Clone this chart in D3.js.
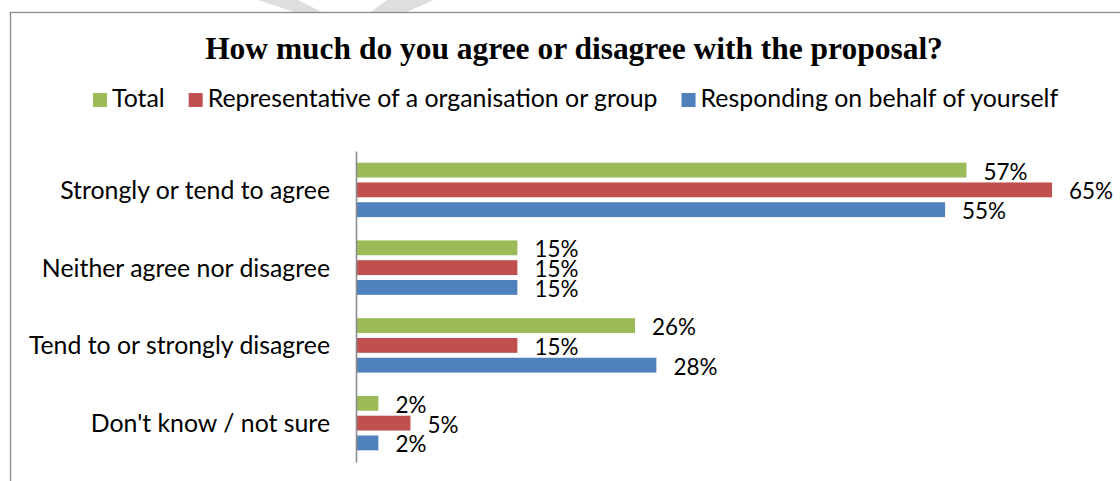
<!DOCTYPE html>
<html>
<head>
<meta charset="utf-8">
<script src="https://cdn.jsdelivr.net/npm/d3@7"></script>
<style>
  html, body { margin: 0; padding: 0; background: #fff; }
  svg { display: block; }
</style>
</head>
<body>
<svg id="chart" width="1120" height="481"></svg>
<script>
// ---- data ----
const categories = [
  "Strongly or tend to agree",
  "Neither agree nor disagree",
  "Tend to or strongly disagree",
  "Don't know / not sure"
];
const seriesNames = [
  "Total",
  "Representative of a organisation or group",
  "Responding on behalf of yourself"
];
const totalValues          = [57, 15, 26, 2];
const representativeValues = [65, 15, 15, 5];
const selfValues           = [55, 15, 28, 2];
const titleText = "How much do you agree or disagree with the proposal?";

// ---- styling ----
const seriesColors = ["#9BBB59", "#C0504D", "#4F81BD"];
const sansFamily = "Lato, 'Open Sans', sans-serif";
const serifFamily = "'Liberation Serif', 'DejaVu Serif', serif";
const textColor = "#000";
const frameColor = "#8c8c8c";

const seriesValues = [totalValues, representativeValues, selfValues];
const rows = categories.map((c, i) => ({
  category: c,
  values: seriesNames.map((s, j) => ({ series: s, value: seriesValues[j][i], color: seriesColors[j] }))
}));

const svg = d3.select("#chart");
const W = 1120, H = 481;

// font size that makes a string a given width
function fitSize(text, family, weight, target) {
  const t = svg.append("text")
    .attr("font-family", family).attr("font-weight", weight)
    .attr("font-size", 100).text(text);
  const w = t.node().getComputedTextLength();
  t.remove();
  return 100 * target / w;
}

// faint watermark strokes above the chart frame
const watermark = [
  [[258, 0], [298, 0], [324, 13], [297, 13]],
  [[387, 0], [434, 0], [404, 13], [369, 13]]
];
svg.append("g").selectAll("path").data(watermark).join("path")
  .attr("d", d => d3.line()(d) + "Z")
  .attr("fill", "#dedede");

// chart frame
svg.append("rect")
  .attr("x", 10.5).attr("y", 12.5)
  .attr("width", W + 20).attr("height", H + 20)
  .attr("fill", "#fff")
  .attr("stroke", frameColor).attr("stroke-width", 1.3);

// title
const titleSize = fitSize(titleText, serifFamily, "bold", 738);
svg.append("text")
  .attr("x", 574).attr("y", 59)
  .attr("text-anchor", "middle")
  .attr("font-family", serifFamily).attr("font-weight", "bold")
  .attr("font-size", titleSize)
  .attr("fill", textColor)
  .text(titleText);

// legend
const legendSize = fitSize(seriesNames[1], sansFamily, "normal", 450);
const legend = svg.append("g").attr("transform", "translate(93,0)");
let lx = 0;
seriesNames.forEach((name, i) => {
  const g = legend.append("g").attr("transform", `translate(${lx},0)`);
  g.append("rect").attr("x", 0).attr("y", 93).attr("width", 14).attr("height", 14)
    .attr("fill", seriesColors[i]);
  const t = g.append("text").attr("x", 19).attr("y", 107)
    .attr("font-family", sansFamily).attr("font-size", legendSize)
    .attr("fill", textColor).text(name);
  lx += 19 + t.node().getComputedTextLength() + 24;
});

// scales
const x = d3.scaleLinear().domain([0, 65]).range([357, 1052]);
const y0 = d3.scaleBand().domain(categories).range([151, 462])
  .paddingInner(0.3).paddingOuter(0.15);
const y1 = d3.scaleBand().domain(seriesNames).range([0, y0.bandwidth()])
  .paddingInner(0.25).paddingOuter(0);

// bars
const groups = svg.append("g").selectAll("g").data(rows).join("g")
  .attr("transform", d => `translate(0,${y0(d.category)})`);

groups.selectAll("rect").data(d => d.values).join("rect")
  .attr("x", x(0))
  .attr("y", d => y1(d.series))
  .attr("width", d => x(d.value) - x(0))
  .attr("height", y1.bandwidth())
  .attr("fill", d => d.color);

// value labels
const valueSize = fitSize("57%", sansFamily, "normal", 44);
groups.selectAll("text").data(d => d.values).join("text")
  .attr("x", d => x(d.value) + 17)
  .attr("y", d => y1(d.series) + y1.bandwidth() / 2 + 9.5)
  .attr("font-family", sansFamily).attr("font-size", valueSize)
  .attr("fill", textColor)
  .text(d => d.value + "%");

// category axis
const catSize = fitSize(categories[0], sansFamily, "normal", 270);
const axis = svg.append("g")
  .attr("transform", "translate(356,0)")
  .call(d3.axisLeft(y0).tickSize(0).tickSizeOuter(0).tickPadding(26));
axis.select(".domain").attr("stroke", "#8c8c8c").attr("stroke-width", 1.6);
axis.selectAll(".tick text")
  .attr("font-family", sansFamily).attr("font-size", catSize)
  .attr("fill", textColor).attr("dy", "0.36em");
</script>
</body>
</html>
